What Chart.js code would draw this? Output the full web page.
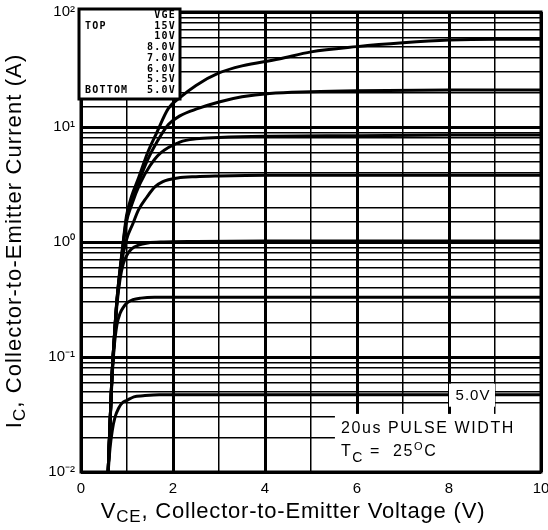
<!DOCTYPE html>
<html>
<head>
<meta charset="utf-8">
<script src="https://cdn.jsdelivr.net/npm/chart.js@4"></script>
<style>
  html, body { margin: 0; padding: 0; background: #fff; }
</style>
</head>
<body>
<div style="width:548px;height:530px"><canvas id="myChart"></canvas></div>
<script>
// VGE curves, top to bottom
const vgeLabels = ['15V', '10V', '8.0V', '7.0V', '6.0V', '5.5V', '5.0V']

const vce15 = [0.59, 0.67, 0.72, 0.78, 0.88, 0.94, 0.99, 1.1, 1.25, 1.45, 1.65, 1.9, 2.15, 2.5, 3.0, 3.5, 4.3, 5.0, 6.0, 7.0, 8.0, 9.0, 10]
const ic15 = [0.01, 0.065, 0.14, 0.31, 0.75, 1.2, 1.7, 2.5, 3.6, 6.0, 9.0, 14.5, 18, 23, 29.5, 34, 39, 45, 50, 54, 57, 58, 58]

const vce10 = [0.59, 0.67, 0.72, 0.78, 0.88, 0.94, 0.99, 1.1, 1.25, 1.45, 1.65, 1.9, 2.15, 2.55, 3.0, 3.5, 4.1, 5.0, 6.0, 8.0, 10]
const ic10 = [0.01, 0.065, 0.14, 0.31, 0.73, 1.15, 1.6, 2.3, 3.3, 5.2, 7.4, 10.5, 12.5, 14.5, 16.5, 18.3, 19.6, 20.3, 20.7, 21, 21]

const vce8 = [0.59, 0.67, 0.72, 0.78, 0.88, 0.94, 0.99, 1.1, 1.28, 1.5, 1.72, 2.15, 2.5, 3.0, 4.0, 6.0, 8.0, 10]
const ic8 = [0.01, 0.065, 0.14, 0.3, 0.7, 1.1, 1.5, 2.1, 3.2, 4.6, 5.9, 7.4, 7.9, 8.1, 8.3, 8.4, 8.5, 8.5]

const vce7 = [0.59, 0.67, 0.72, 0.78, 0.88, 0.99, 1.13, 1.25, 1.43, 1.6, 1.78, 2.1, 2.5, 3.0, 4.0, 6.0, 10]
const ic7 = [0.01, 0.065, 0.14, 0.3, 0.65, 1.05, 1.45, 1.9, 2.45, 3.0, 3.35, 3.6, 3.7, 3.75, 3.8, 3.8, 3.8]

const vce6 = [0.59, 0.67, 0.72, 0.78, 0.85, 0.92, 1.0, 1.1, 1.25, 1.45, 1.8, 2.5, 4.0, 10]
const ic6 = [0.01, 0.063, 0.13, 0.28, 0.48, 0.65, 0.77, 0.87, 0.94, 0.98, 1.0, 1.01, 1.02, 1.02]

const vce55 = [0.59, 0.67, 0.72, 0.78, 0.85, 0.92, 1.0, 1.13, 1.3, 1.6, 2.0, 4.0, 10]
const ic55 = [0.01, 0.06, 0.12, 0.19, 0.24, 0.27, 0.295, 0.315, 0.325, 0.33, 0.33, 0.33, 0.33]

const vce5 = [0.59, 0.63, 0.68, 0.74, 0.82, 0.9, 1.0, 1.15, 1.35, 1.7, 3.0, 10]
const ic5 = [0.01, 0.016, 0.023, 0.03, 0.036, 0.04, 0.042, 0.045, 0.046, 0.047, 0.047, 0.047]

const curves = [
  [vce15, ic15], [vce10, ic10], [vce8, ic8], [vce7, ic7],
  [vce6, ic6], [vce55, ic55], [vce5, ic5]
]

const yDecades = [0.01, 0.1, 1, 10, 100]
const yDecadeLabels = ['10⁻²', '10⁻¹', '10⁰', '10¹', '10²']
const xTickLabels = ['0', '2', '4', '6', '8', '10']

function isDecade(v) {
  const l = Math.log10(v)
  return Math.abs(l - Math.round(l)) < 1e-6
}

// text with subscript parts, centred on x
function drawParts(ctx, parts, x, y, size, family) {
  let total = 0
  parts.forEach(p => {
    ctx.font = (p.s ? Math.round(size * 0.75) : size) + 'px ' + family
    p.w = ctx.measureText(p.t).width
    total += p.w
  })
  let cx = x - total / 2
  parts.forEach(p => {
    ctx.font = (p.s ? Math.round(size * 0.75) : size) + 'px ' + family
    ctx.fillText(p.t, cx, y + (p.s || 0))
    cx += p.w
  })
}

const overlay = {
  id: 'overlay',
  afterDatasetsDraw(chart) {
    const ctx = chart.ctx
    const a = chart.chartArea
    const xs = chart.scales.x
    const ys = chart.scales.y
    ctx.save()
    ctx.textBaseline = 'middle'

    // 5.0V label on bottom curve
    const lx = xs.getPixelForValue(8.5)
    const lyv = ys.getPixelForValue(0.047)
    ctx.fillStyle = '#fff'
    ctx.fillRect(lx - 23, lyv - 11, 46, 23)
    ctx.fillStyle = '#000'
    ctx.textAlign = 'center'
    ctx.font = '15px "Liberation Sans"'
    ctx.letterSpacing = '1px'
    ctx.fillText('5.0V', lx + 1, lyv + 1)

    // pulse width note
    const nx = xs.getPixelForValue(5.52)
    const ny = ys.getPixelForValue(0.032)
    ctx.fillStyle = '#fff'
    ctx.fillRect(nx, ny, a.right - nx, a.bottom - ny)
    ctx.fillStyle = '#000'
    ctx.textAlign = 'left'
    ctx.font = '16px "Liberation Sans"'
    ctx.letterSpacing = '1.6px'
    ctx.fillText('20us PULSE WIDTH', nx + 6, ny + 15)
    let tx = nx + 6
    const ty = ny + 38
    ctx.fillText('T', tx, ty)
    tx += ctx.measureText('T').width
    ctx.font = '14px "Liberation Sans"'
    ctx.fillText('C', tx, ty + 6)
    tx += ctx.measureText('C').width + 6
    ctx.font = '16px "Liberation Sans"'
    ctx.fillText('=  25', tx, ty)
    tx += ctx.measureText('=  25').width
    ctx.font = '11px "Liberation Sans"'
    ctx.fillText('O', tx, ty - 5)
    tx += ctx.measureText('O').width
    ctx.font = '16px "Liberation Sans"'
    ctx.fillText('C', tx, ty)

    // plot border
    ctx.strokeStyle = '#000'
    ctx.lineWidth = 3
    ctx.strokeRect(a.left, a.top, a.right - a.left, a.bottom - a.top)

    // VGE legend box
    const bx = a.left - 2, by = a.top - 3, bw = 101, bh = 90
    ctx.fillStyle = '#fff'
    ctx.fillRect(bx, by, bw, bh)
    ctx.strokeRect(bx, by, bw, bh)
    ctx.fillStyle = '#000'
    ctx.font = 'bold 10px "DejaVu Sans Mono"'
    ctx.letterSpacing = '1.2px'
    ctx.textAlign = 'right'
    ctx.fillText('VGE', bx + 97, by + 6.5)
    vgeLabels.forEach((lab, i) => {
      ctx.fillText(lab, bx + 97, by + 17.2 + i * 10.7)
    })
    ctx.textAlign = 'left'
    ctx.fillText('TOP', bx + 6, by + 17.2)
    ctx.fillText('BOTTOM', bx + 6, by + 17.2 + 6 * 10.7)

    // axis titles
    ctx.letterSpacing = '0.8px'
    drawParts(ctx, [{ t: 'V' }, { t: 'CE', s: 5 }, { t: ', Collector-to-Emitter Voltage (V)' }],
      293, 512, 22, '"Liberation Sans"')
    ctx.save()
    ctx.translate(15, 241)
    ctx.rotate(-Math.PI / 2)
    ctx.letterSpacing = '1.1px'
    drawParts(ctx, [{ t: 'I' }, { t: 'C', s: 5 }, { t: ', Collector-to-Emitter Current (A)' }],
      0, 0, 22, '"Liberation Sans"')
    ctx.restore()
    ctx.restore()
  }
}

const ctx = document.getElementById('myChart').getContext('2d')
const myChart = new Chart(ctx, {
  type: 'line',
  data: {
    datasets: curves.map((c, i) => ({
      label: vgeLabels[i],
      data: c[0].map((v, j) => ({ x: v, y: c[1][j] })),
      borderColor: '#000',
      borderWidth: 3,
      pointRadius: 0,
      fill: false,
      cubicInterpolationMode: 'monotone'
    }))
  },
  options: {
    responsive: true,
    maintainAspectRatio: false,
    animation: false,
    layout: { padding: { left: 0, top: 12, right: 7, bottom: 0 } },
    plugins: {
      legend: { display: false },
      tooltip: { enabled: false }
    },
    scales: {
      x: {
        type: 'linear',
        min: 0,
        max: 10,
        afterFit: s => {
          s.height = 58
          s.paddingLeft = 0
          s.paddingRight = 0
        },
        grid: {
          color: '#000',
          drawTicks: false,
          lineWidth: c => (c.tick && c.tick.value % 2 === 0 ? 3 : 1.5)
        },
        border: { display: false },
        ticks: {
          stepSize: 1,
          padding: 8,
          color: '#000',
          font: { family: '"Liberation Sans"', size: 15 },
          callback: v => (v % 2 === 0 ? xTickLabels[v / 2] : '')
        }
      },
      y: {
        type: 'logarithmic',
        min: 0.01,
        max: 100,
        afterFit: s => {
          s.width = 81
          s.paddingTop = 0
          s.paddingBottom = 0
        },
        grid: {
          color: '#000',
          drawTicks: false,
          lineWidth: c => (c.tick && isDecade(c.tick.value) ? 3 : 1.5)
        },
        border: { display: false },
        ticks: {
          autoSkip: false,
          padding: 6,
          color: '#000',
          font: { family: '"Liberation Sans"', size: 15 },
          callback: v => {
            const k = yDecades.findIndex(d => Math.abs(d - v) / d < 1e-6)
            return k >= 0 ? yDecadeLabels[k] : ''
          }
        }
      }
    }
  },
  plugins: [overlay]
})
</script>
</body>
</html>
